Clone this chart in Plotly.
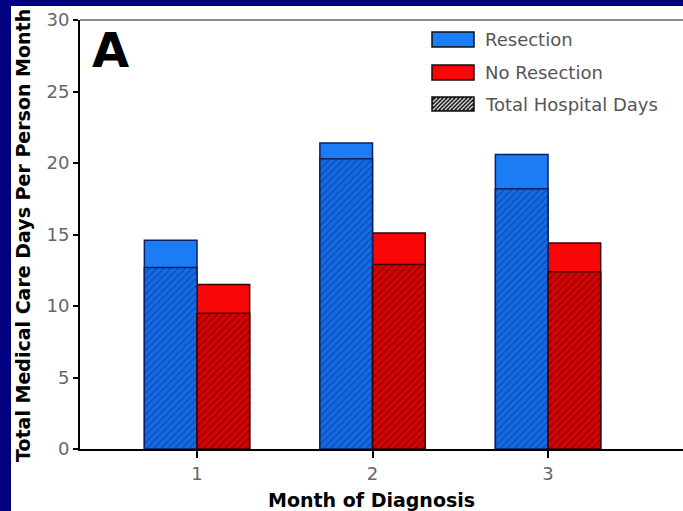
import plotly.graph_objects as go

# Medical care days per person-month, by month of diagnosis
months = [1, 2, 3]
month_labels = ["1", "2", "3"]
resection_total = [14.6, 21.4, 20.6]
resection_hospital = [12.7, 20.3, 18.2]
no_resection_total = [11.5, 15.1, 14.4]
no_resection_hospital = [9.5, 12.9, 12.4]
legend_labels = ["Resection", "No Resection", "Total Hospital Days"]

W, H = 683, 511
ML, MR, MT, MB = 80, 0, 20, 62
PW, PH = W - ML - MR, H - MT - MB

BLUE = "#1c7cf4"
BLUE_H = "#166ae2"
RED = "#fa0606"
RED_H = "#d40404"
NAVY = "#000080"


def px(x):
    return (x - ML) / PW


def py(y):
    return (H - MB - y) / PH


fig = go.Figure()

bar_w = 0.3
for vals, col, edge, off in [
    (resection_total, BLUE, "#0b1f66", -bar_w),
    (no_resection_total, RED, "#3a0000", 0.0),
]:
    fig.add_trace(go.Bar(
        x=months, y=vals, width=bar_w, offset=off,
        marker=dict(color=col, line=dict(color=edge, width=1.5)),
        showlegend=False, hoverinfo="y",
    ))

for vals, col, fg, edge, off in [
    (resection_hospital, BLUE_H, "#0d4bb4", "#0b1f66", -bar_w),
    (no_resection_hospital, RED_H, "#8a0000", "#3a0000", 0.0),
]:
    fig.add_trace(go.Bar(
        x=months, y=vals, width=bar_w, offset=off,
        marker=dict(
            color=col,
            line=dict(color=edge, width=1.5),
            pattern=dict(shape="/", size=5, solidity=0.25,
                         fgcolor=fg, bgcolor=col, fillmode="replace"),
        ),
        showlegend=False, hoverinfo="y",
    ))

shapes = [
    # white panel inside the navy frame
    dict(type="rect", xref="paper", yref="paper", layer="below",
         x0=px(11), x1=px(W + 5), y0=py(H + 5), y1=py(6),
         fillcolor="white", line=dict(width=0)),
    # grey top border of the plot area
    dict(type="line", xref="paper", yref="paper",
         x0=0, x1=1, y0=1, y1=1, line=dict(color="#8a8a8a", width=2)),
]

annotations = []

# legend swatches and labels
sw_x0, sw_x1 = 432, 474
rows = [(32, 47), (65, 80), (97, 111)]
fills = [BLUE, RED, "#1e1e1e"]
for (y0, y1), fill, label in zip(rows, fills, legend_labels):
    shapes.append(dict(type="rect", xref="paper", yref="paper",
                       x0=px(sw_x0), x1=px(sw_x1), y0=py(y1), y1=py(y0),
                       fillcolor=fill, line=dict(color="#111111", width=1.5)))
    annotations.append(dict(
        x=px(483), y=py((y0 + y1) / 2), xref="paper", yref="paper",
        xanchor="left", yanchor="middle", showarrow=False, text=label,
        font=dict(family="DejaVu Sans", size=18, color="#555555")))

# white diagonal stripes on the hatched swatch
y0, y1 = rows[2]
k = sw_x0 + y0 + 2
while k < sw_x1 + y1:
    xa = max(sw_x0 + 1, k - (y1 - 1))
    xb = min(sw_x1 - 1, k - (y0 + 1))
    if xb > xa:
        shapes.append(dict(type="line", xref="paper", yref="paper",
                           x0=px(xa), y0=py(k - xa), x1=px(xb), y1=py(k - xb),
                           line=dict(color="#d8d8d8", width=1.2)))
    k += 4

annotations += [
    dict(x=px(90), y=py(20), xref="paper", yref="paper",
         xanchor="left", yanchor="top", showarrow=False, text="A",
         font=dict(family="DejaVu Sans", size=48, color="black", weight="bold")),
    dict(x=px(23), y=py(236), xref="paper", yref="paper",
         xanchor="center", yanchor="middle", showarrow=False, textangle=-90,
         text="Total Medical Care Days Per Person Month",
         font=dict(family="DejaVu Sans", size=19, color="black", weight="bold")),
    dict(x=px(371), y=py(500), xref="paper", yref="paper",
         xanchor="center", yanchor="middle", showarrow=False,
         text="Month of Diagnosis",
         font=dict(family="DejaVu Sans", size=19, color="black", weight="bold")),
]

fig.update_layout(
    width=W, height=H, autosize=False,
    margin=dict(l=ML, r=MR, t=MT, b=MB, pad=0),
    paper_bgcolor=NAVY, plot_bgcolor="rgba(0,0,0,0)",
    barmode="overlay", showlegend=False,
    shapes=shapes, annotations=annotations,
    xaxis=dict(
        range=[0.3333, 3.769], tickvals=months, ticktext=month_labels,
        showgrid=False, zeroline=False, showline=True,
        linecolor="black", linewidth=2,
        ticks="outside", ticklen=7, tickwidth=1.5, tickcolor="black",
        tickfont=dict(family="DejaVu Sans", size=18, color="#666666"),
    ),
    yaxis=dict(
        range=[0, 30], dtick=5, tick0=0,
        showgrid=False, zeroline=False, showline=True,
        linecolor="black", linewidth=2,
        ticks="outside", ticklen=5, tickwidth=1.5, tickcolor="black",
        tickfont=dict(family="DejaVu Sans", size=18, color="#666666"),
    ),
)

fig.write_html("out.html")
